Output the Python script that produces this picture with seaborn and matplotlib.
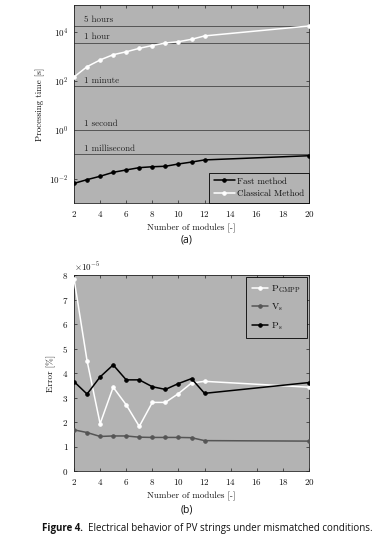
import numpy as np
import pandas as pd
import matplotlib
matplotlib.use("Agg")
import matplotlib.pyplot as plt
import seaborn as sns
from matplotlib.ticker import FixedLocator, ScalarFormatter, NullLocator

# ---------------- data ----------------
modules = [2, 3, 4, 5, 6, 7, 8, 9, 10, 11, 12, 20]
fast_time = [0.0066, 0.0094, 0.0129, 0.0187, 0.0234, 0.029, 0.0316, 0.033, 0.041, 0.049, 0.060, 0.089]
classical_time = [145, 383, 720, 1180, 1550, 2150, 2800, 3540, 4000, 5000, 6900, 17500]

ref_labels = ["5 hours", "1 hour", "1 minute", "1 second", "1 millisecond"]
ref_values = [18000, 3600, 60, 1, 0.1]

err_pgmpp = [7.85, 4.5, 1.93, 3.42, 2.7, 1.82, 2.8, 2.8, 3.16, 3.59, 3.66, 3.42]
err_vs = [1.68, 1.57, 1.41, 1.43, 1.43, 1.38, 1.37, 1.37, 1.37, 1.36, 1.24, 1.22]
err_ps = [3.65, 3.14, 3.84, 4.33, 3.72, 3.72, 3.44, 3.33, 3.57, 3.77, 3.17, 3.61]
err_scale = 1e-5

xticks = [2, 4, 6, 8, 10, 12, 14, 16, 18, 20]

# ---------------- style ----------------
bg = "#b3b3b3"
sns.set_style("ticks")
plt.rcParams.update({
    "font.family": ["cmr10", "DejaVu Serif"],
    "mathtext.fontset": "cm",
    "axes.formatter.use_mathtext": True,
    "axes.unicode_minus": False,
    "font.size": 6.5,
    "text.color": "#111111",
    "axes.labelcolor": "#111111",
    "xtick.direction": "in",
    "ytick.direction": "in",
    "xtick.top": True,
    "ytick.right": True,
    "xtick.major.size": 2.5,
    "ytick.major.size": 2.5,
    "xtick.major.width": 0.5,
    "ytick.major.width": 0.5,
    "axes.linewidth": 0.6,
    "axes.edgecolor": "#222222",
    "xtick.color": "#222222",
    "ytick.color": "#222222",
    "xtick.labelcolor": "#111111",
    "ytick.labelcolor": "#111111",
})

fig = plt.figure(figsize=(3.73, 5.51), dpi=100)
W, H = 373, 551
def axbox(x0, y0, x1, y1):
    return [x0 / W, 1 - y1 / H, (x1 - x0) / W, (y1 - y0) / H]

ax1 = fig.add_axes(axbox(74, 5, 309, 203))
ax2 = fig.add_axes(axbox(74, 275, 309, 471))

def style_legend(leg):
    fr = leg.get_frame()
    fr.set_facecolor(bg)
    fr.set_edgecolor("black")
    fr.set_linewidth(0.6)
    fr.set_alpha(1)

# ---------------- top panel ----------------
ax1.set_facecolor(bg)
df1 = pd.DataFrame({"modules": modules, "fast": fast_time, "classical": classical_time})
for yv, lab in zip(ref_values, ref_labels):
    ax1.axhline(yv, color="#555555", lw=0.7, zorder=1)
    ax1.text(2.75, yv * 1.18, lab, fontsize=6.5, color="#222222", va="bottom", ha="left")

sns.lineplot(data=df1, x="modules", y="fast", ax=ax1, color="black", marker="o",
             markersize=2.5, markeredgecolor="black", lw=1.1, label="Fast method", zorder=3)
sns.lineplot(data=df1, x="modules", y="classical", ax=ax1, color="white", marker="o",
             markersize=2.5, markeredgecolor="white", lw=1.1, label="Classical Method", zorder=3)
ax1.set_yscale("log")
ax1.set_ylim(10 ** -2.98, 10 ** 5.1)
ax1.set_xlim(2, 20)
ax1.yaxis.set_major_locator(FixedLocator([1e-2, 1, 1e2, 1e4]))
ax1.yaxis.set_minor_locator(NullLocator())
ax1.set_xticks(xticks)
ax1.set_xlabel("Number of modules [-]", fontsize=6.5, labelpad=4)
ax1.set_ylabel("Processing time [s]", fontsize=6.5, labelpad=3)
ax1.tick_params(labelsize=6.5, pad=4)
leg1 = ax1.legend(loc="lower right", borderaxespad=0, fontsize=6.5, frameon=True,
                  fancybox=False, handlelength=2.3, labelspacing=0.5, borderpad=0.5,
                  handletextpad=0.3)
style_legend(leg1)
fig.text(0.5, 1 - 240 / H, "(a)", ha="center", va="center", fontsize=7.5, family="Open Sans")

# ---------------- bottom panel ----------------
ax2.set_facecolor(bg)
df2 = pd.DataFrame({
    "modules": modules,
    "pgmpp": np.array(err_pgmpp) * err_scale,
    "vs": np.array(err_vs) * err_scale,
    "ps": np.array(err_ps) * err_scale,
})
sns.lineplot(data=df2, x="modules", y="pgmpp", ax=ax2, color="white", marker="o",
             markersize=2.5, markeredgecolor="white", lw=1.1, label=r"$\mathrm{P_{GMPP}}$", zorder=3)
sns.lineplot(data=df2, x="modules", y="vs", ax=ax2, color="#555555", marker="o",
             markersize=2.5, markeredgecolor="#555555", lw=1.1, label=r"$\mathrm{V_s}$", zorder=3)
sns.lineplot(data=df2, x="modules", y="ps", ax=ax2, color="black", marker="o",
             markersize=2.5, markeredgecolor="black", lw=1.1, label=r"$\mathrm{P_s}$", zorder=3)
ax2.set_xlim(2, 20)
ax2.set_ylim(0, 8e-5)
ax2.set_yticks(np.arange(0, 9) * 1e-5)
ax2.set_xticks(xticks)
fmt = ScalarFormatter(useMathText=True)
fmt.set_powerlimits((-3, 3))
ax2.yaxis.set_major_formatter(fmt)
ax2.yaxis.get_offset_text().set_fontsize(6.5)
ax2.set_xlabel("Number of modules [-]", fontsize=6.5, labelpad=4)
ax2.set_ylabel("Error [%]", fontsize=6.5, labelpad=4)
ax2.tick_params(labelsize=6.5, pad=4)
leg2 = ax2.legend(loc="upper right", borderaxespad=0.25, fontsize=7, frameon=True,
                  fancybox=False, handlelength=1.7, labelspacing=0.7, borderpad=0.6,
                  handletextpad=0.3)
style_legend(leg2)
fig.text(0.5, 1 - 510 / H, "(b)", ha="center", va="center", fontsize=7.5, family="Open Sans")

# ---------------- caption ----------------
fig.text(42 / W, 1 - 529 / H, "Figure 4.", ha="left", va="center", fontsize=7,
         family="Open Sans", weight="bold")
fig.text(88 / W, 1 - 529 / H, "Electrical behavior of PV strings under mismatched conditions.",
         ha="left", va="center", fontsize=7, family="Open Sans")

fig.savefig("out.png", dpi=100)
